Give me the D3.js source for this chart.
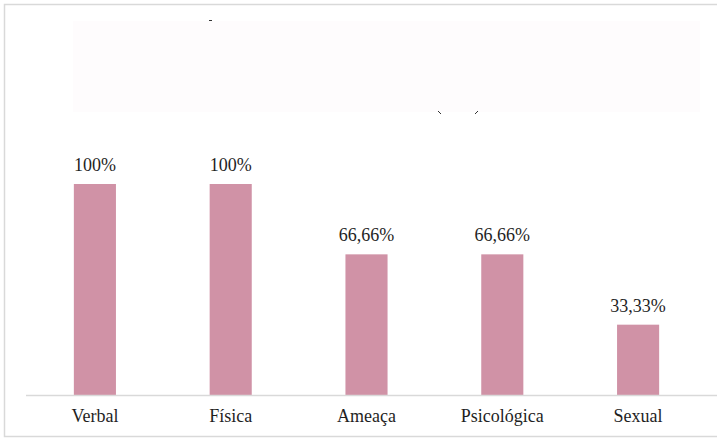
<!DOCTYPE html>
<html><head><meta charset="utf-8">
<script src="https://cdn.jsdelivr.net/npm/d3@7"></script>
</head><body style="margin:0">
<svg id="chart" width="717" height="438" style="display:block"></svg>
<script>
const categories = ["Verbal", "Física", "Ameaça", "Psicológica", "Sexual"];
const values = [100, 100, 66.66, 66.66, 33.33];
const valueLabels = ["100%", "100%", "66,66%", "66,66%", "33,33%"];

const W = 717, H = 438;
const svg = d3.select("#chart");

// outer frame
svg.append("rect").attr("x", 4.5).attr("y", 4.5).attr("width", W + 10).attr("height", H - 6)
  .attr("fill", "#fff").attr("stroke", "#d9d9d9").attr("stroke-width", 1.5);

// faded title block
svg.append("rect").attr("x", 73).attr("y", 21).attr("width", 627).attr("height", 91).attr("fill", "#fefcfd");
svg.append("line").attr("x1", 209).attr("x2", 212).attr("y1", 20.5).attr("y2", 20.5).attr("stroke", "#333").attr("stroke-width", 1);
svg.append("line").attr("x1", 438).attr("x2", 441).attr("y1", 111).attr("y2", 114).attr("stroke", "#333").attr("stroke-width", 1);
svg.append("line").attr("x1", 478).attr("x2", 475).attr("y1", 111).attr("y2", 114).attr("stroke", "#333").attr("stroke-width", 1);

const x = d3.scaleBand().domain(categories).range([27, 706]).paddingInner(0.69).paddingOuter(0.345);
const y = d3.scaleLinear().domain([0, 100]).range([395, 184]);

svg.selectAll("rect.bar").data(values).join("rect").attr("class", "bar")
  .attr("x", (d, i) => x(categories[i])).attr("width", x.bandwidth())
  .attr("y", d => y(d)).attr("height", d => y(0) - y(d)).attr("fill", "#d092a6");

svg.append("line").attr("x1", 26).attr("x2", W).attr("y1", 395.5).attr("y2", 395.5)
  .attr("stroke", "#d9d9d9").attr("stroke-width", 1.5);

svg.selectAll("text.val").data(values).join("text").attr("class", "val")
  .attr("x", (d, i) => x(categories[i]) + x.bandwidth() / 2).attr("y", d => y(d) - 13)
  .attr("text-anchor", "middle").attr("font-family", "Liberation Serif").attr("font-size", 18)
  .attr("fill", "#1f1f1f").text((d, i) => valueLabels[i]);

svg.selectAll("text.cat").data(categories).join("text").attr("class", "cat")
  .attr("x", d => x(d) + x.bandwidth() / 2).attr("y", 422)
  .attr("text-anchor", "middle").attr("font-family", "Liberation Serif").attr("font-size", 18)
  .attr("fill", "#1f1f1f").text(d => d);
</script></body></html>
